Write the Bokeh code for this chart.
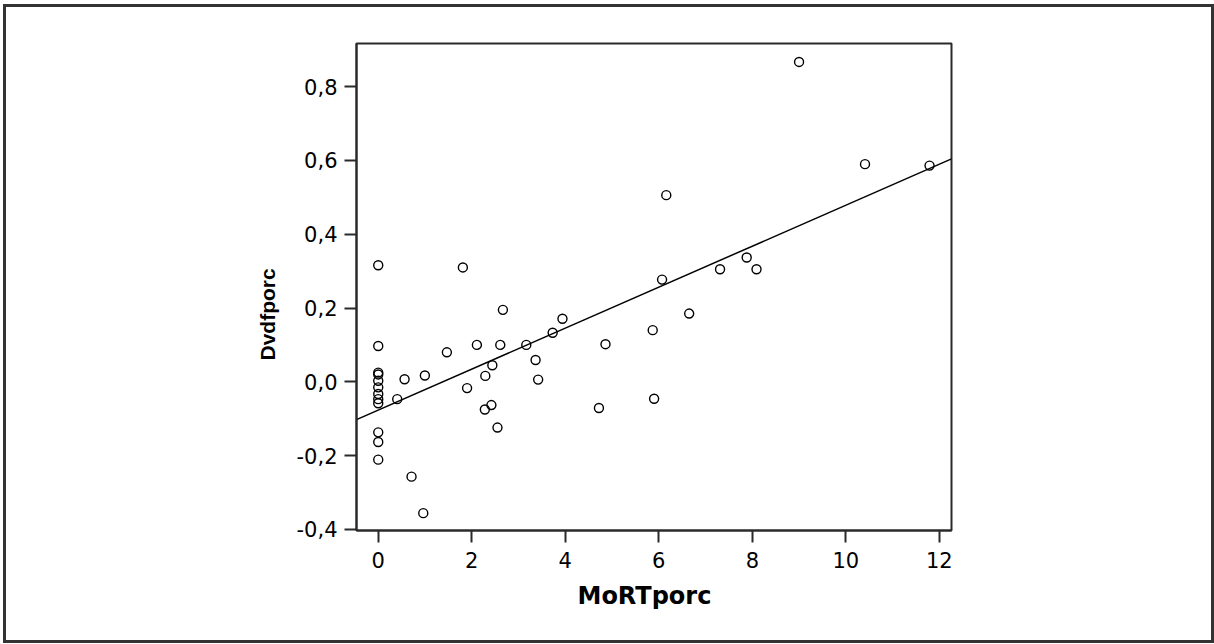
import numpy as np
from bokeh.plotting import figure
from bokeh.layouts import column
from bokeh.models import FixedTicker, CustomJSTickFormatter, Title
from bokeh.embed import file_html
from bokeh.resources import INLINE

# ---- data ----
mort_zero_x = [0, 0, 0, 0, 0, 0, 0, 0, 0, 0, 0, 0]
dvdf_zero_y = [0.316, 0.097, 0.025, 0.020, 0.003, -0.015, -0.033, -0.047, -0.058, -0.137, -0.163, -0.211]

mort_x = [1.81, 0.563, 0.406, 0.997, 1.468, 2.11, 1.90, 2.29, 2.28, 2.42, 2.44, 0.712, 0.963,
          2.666, 2.61, 3.166, 3.73, 3.94, 3.365, 3.42, 2.55, 6.16, 6.07, 7.31, 7.88, 8.09,
          6.65, 5.87, 4.86, 5.90, 4.72, 9.0, 10.41, 11.79]
dvdf_y = [0.310, 0.007, -0.047, 0.017, 0.080, 0.100, -0.017, 0.016, -0.075, -0.063, 0.045, -0.257, -0.356,
          0.195, 0.100, 0.100, 0.133, 0.171, 0.059, 0.006, -0.124, 0.506, 0.277, 0.305, 0.337, 0.305,
          0.185, 0.140, 0.102, -0.046, -0.071, 0.867, 0.590, 0.586]

x_ticks = [0, 2, 4, 6, 8, 10, 12]
y_ticks = [-0.4, -0.2, 0.0, 0.2, 0.4, 0.6, 0.8]
x_label = "MoRTporc"
y_label = "Dvdfporc"

X = np.array(mort_zero_x + mort_x, dtype=float)
Y = np.array(dvdf_zero_y + dvdf_y, dtype=float)

x_lo, x_hi = -0.465, 12.26
y_lo, y_hi = -0.403, 0.917

p = figure(width=1205, height=633, x_range=(x_lo, x_hi), y_range=(y_lo, y_hi),
           output_backend="svg", toolbar_location=None,
           min_border_left=350, min_border_right=260, min_border_top=36, min_border_bottom=110)

p.grid.visible = False
p.background_fill_color = "white"
p.border_fill_color = "white"
p.outline_line_color = "#2a2a2a"
p.outline_line_width = 2

ink = "#2a2a2a"
for ax in (p.xaxis[0], p.yaxis[0]):
    ax.axis_line_color = ink
    ax.axis_line_width = 2
    ax.major_tick_line_color = ink
    ax.major_tick_line_width = 2
    ax.major_tick_in = 0
    ax.major_tick_out = 12
    ax.minor_tick_line_color = None
    ax.major_label_text_font = "DejaVu Sans"
    ax.major_label_text_font_size = "21px"
    ax.major_label_text_color = "black"

p.xaxis.ticker = FixedTicker(ticks=x_ticks)
p.yaxis.ticker = FixedTicker(ticks=y_ticks)
p.xaxis.formatter = CustomJSTickFormatter(code="return Math.round(tick).toString();")
p.yaxis.formatter = CustomJSTickFormatter(
    code="var t = Math.abs(tick) < 1e-9 ? 0 : tick; return t.toFixed(1).replace('.', ',');")
p.xaxis.major_label_standoff = 9
p.yaxis.major_label_standoff = 7

# x-axis title, slightly left of the frame centre as in the original
xtitle = Title(text=x_label, align="left", offset=221, standoff=18,
               text_font="DejaVu Sans", text_font_style="bold",
               text_font_size="24px", text_color="black")
p.add_layout(xtitle, "below")

# y-axis title, placed lower than the frame centre as in the original
ytitle = Title(text=y_label, align="left", offset=170, standoff=30,
               text_font="Liberation Sans", text_font_style="bold",
               text_font_size="21px", text_color="black")
p.add_layout(ytitle, "left")

# regression line
slope, intercept = np.polyfit(X, Y, 1)
fx = np.array([x_lo, x_hi])
p.line(fx, intercept + slope * fx, line_color="black", line_width=1.5)

p.scatter(X, Y, marker="circle", size=9, fill_color=None, line_color="black", line_width=1.4)

root = column(p, styles={"position": "absolute", "left": "3px", "top": "4px",
                         "border": "3px solid #333333", "background": "white"})

open("out.html", "w").write(file_html(root, INLINE))
